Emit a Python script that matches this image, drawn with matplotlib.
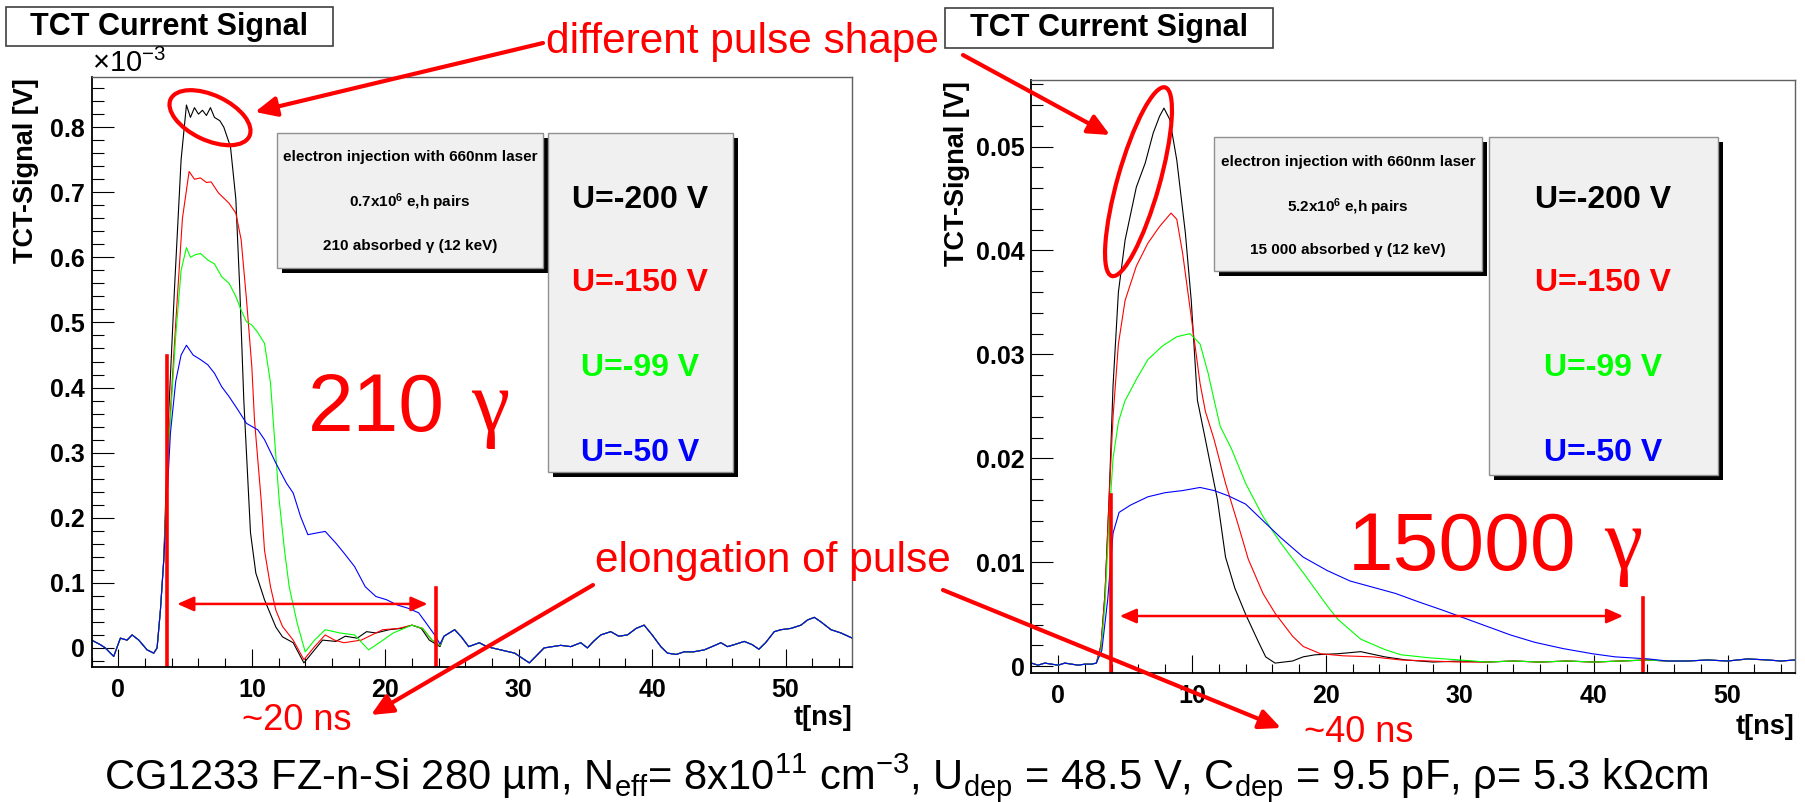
import numpy as np
import matplotlib.pyplot as plt
from matplotlib.patches import Ellipse, FancyArrowPatch, Rectangle

plt.rcParams['font.family'] = ['Liberation Sans', 'DejaVu Sans']
plt.rcParams['mathtext.fontset'] = 'custom'
plt.rcParams['mathtext.rm'] = 'Liberation Sans'
plt.rcParams['mathtext.it'] = 'Liberation Sans:italic'
plt.rcParams['mathtext.bf'] = 'Liberation Sans:bold'

# ---------------- data ----------------
# left panel, 210 photons, signal in units of 1e-3 V
t_head_l = [-2.0, -1.35, -0.98, -0.35, 0.15, 0.65, 1.03, 1.53, 2.15, 2.65, 2.9, 3.15, 3.4]
v_head_l = [0.012, 0.005, 0.0, -0.013, 0.015, 0.012, 0.02, 0.012, -0.003, -0.008, 0.0, 0.058, 0.135]

t_black_l = [3.7, 4.2, 4.7, 5.1, 5.4, 5.7, 6.0, 6.3, 6.6, 6.9, 7.2, 7.6, 7.9, 8.4, 8.8, 9.1, 9.4,
             9.9, 10.3, 10.95, 11.8, 12.3, 13.1, 13.9, 14.5, 15.3, 16.3, 17.0, 17.9, 18.6, 19.3,
             20.3, 21.2, 22.0, 22.7, 23.3, 24.1]
v_black_l = [0.33, 0.55, 0.75, 0.834, 0.815, 0.83, 0.82, 0.826, 0.818, 0.83, 0.815, 0.81, 0.80,
             0.77, 0.69, 0.55, 0.38, 0.177, 0.115, 0.074, 0.032, 0.017, 0.008, -0.023, -0.008,
             0.012, 0.010, 0.018, 0.015, 0.025, 0.023, 0.028, 0.03, 0.035, 0.03, 0.012, 0.002]

t_red_l = [3.8, 4.3, 4.8, 5.3, 5.7, 6.15, 6.6, 6.95, 7.5, 8.3, 8.8, 9.2, 9.6, 10.0, 10.2, 10.7,
           10.95, 11.4, 11.8, 12.3, 13.1, 13.9, 14.7, 15.5, 16.2, 16.9, 18.2, 19.0, 19.8, 21.0,
           22.0, 22.8, 23.5, 24.1]
v_red_l = [0.33, 0.5, 0.66, 0.732, 0.72, 0.722, 0.715, 0.716, 0.699, 0.683, 0.668, 0.627, 0.535,
           0.432, 0.35, 0.227, 0.15, 0.094, 0.058, 0.033, 0.012, -0.018, 0.002, 0.02, 0.012,
           0.008, 0.012, 0.02, 0.028, 0.03, 0.035, 0.03, 0.012, 0.004]

t_green_l = [3.8, 4.3, 4.7, 5.1, 5.4, 5.75, 6.15, 6.7, 7.2, 7.75, 8.3, 8.8, 9.2, 9.6, 10.0, 10.4,
             10.95, 11.4, 11.6, 12.05, 12.45, 12.8, 13.4, 14.0, 14.7, 15.5, 16.6, 17.7, 18.75,
             19.55, 20.6, 22.0, 22.8, 23.5, 24.1]
v_green_l = [0.32, 0.48, 0.58, 0.615, 0.60, 0.604, 0.606, 0.596, 0.59, 0.570, 0.56, 0.54, 0.519,
             0.501, 0.496, 0.486, 0.468, 0.407, 0.35, 0.227, 0.15, 0.094, 0.038, -0.006, 0.012,
             0.028, 0.023, 0.02, -0.003, 0.008, 0.023, 0.035, 0.03, 0.012, 0.004]

t_blue_l = [3.9, 4.3, 4.7, 5.1, 5.6, 6.15, 6.7, 7.2, 7.75, 8.3, 8.95, 9.6, 10.45, 10.95, 11.8,
            12.6, 13.1, 13.65, 14.2, 14.7, 15.5, 16.3, 16.9, 17.7, 18.5, 19.3, 20.1, 20.9, 21.7,
            22.5, 23.0, 23.7, 24.1]
v_blue_l = [0.33, 0.41, 0.45, 0.465, 0.45, 0.443, 0.435, 0.422, 0.401, 0.386, 0.366, 0.345,
            0.335, 0.32, 0.284, 0.253, 0.238, 0.202, 0.174, 0.176, 0.179, 0.161, 0.146, 0.125,
            0.094, 0.079, 0.074, 0.066, 0.061, 0.054, 0.040, 0.02, 0.006]

t_tail_l = [24.4, 25.2, 25.7, 26.25, 27.05, 27.6, 28.65, 29.7, 30.8, 31.9, 33.15, 33.9, 34.65,
            35.15, 35.6, 36.15, 36.9, 37.5, 38.15, 38.8, 39.4, 40.0, 40.65, 41.15, 41.8, 42.4,
            43.1, 43.9, 44.6, 45.15, 45.65, 46.15, 46.9, 47.5, 48.0, 48.5, 49.15, 49.65, 50.4,
            51.15, 51.65, 52.15, 52.65, 53.4, 54.15, 55.0]
v_tail_l = [0.018, 0.028, 0.017, 0.002, 0.008, 0.002, -0.003, -0.008, -0.023, 0.0, 0.004, 0.002,
            0.008, 0.0, 0.01, 0.02, 0.025, 0.018, 0.02, 0.03, 0.035, 0.02, 0.002, -0.008, -0.01,
            -0.006, -0.006, -0.003, 0.003, 0.008, 0.002, 0.005, 0.01, 0.005, -0.002, 0.008, 0.025,
            0.028, 0.03, 0.035, 0.043, 0.047, 0.04, 0.028, 0.023, 0.015]

# right panel, 15000 photons, signal in V
t_head_r = [-2.0, -1.5, -1.0, -0.5, 0.0, 0.5, 1.0, 1.5, 2.0, 2.5]
v_head_r = [0.0003, 0.0001, 0.0003, 0.0002, 0.0001, 0.0003, 0.0002, 0.0001, 0.0002, 0.0002]

t_black_r = [2.85, 3.2, 3.5, 3.8, 4.1, 4.5, 5.0, 5.84, 6.5, 7.1, 7.57, 7.9, 8.34, 8.86, 9.5, 9.94,
             10.4, 11.0, 11.9, 12.5, 13.2, 14.0, 14.9, 15.5, 16.2, 17.5, 18.3, 19.2, 20.9, 22.6,
             24.4, 26.0, 28.0, 30.0]
v_black_r = [0.0003, 0.002, 0.007, 0.016, 0.027, 0.036, 0.041, 0.0461, 0.0484, 0.0513, 0.0529,
             0.0537, 0.0526, 0.0487, 0.0417, 0.0352, 0.0256, 0.0218, 0.016, 0.0105, 0.0075,
             0.005, 0.0025, 0.0009, 0.0003, 0.0005, 0.0009, 0.0011, 0.0012, 0.0014, 0.0009,
             0.0006, 0.0004, 0.0005]

t_red_r = [2.85, 3.2, 3.5, 3.8, 4.1, 4.5, 5.0, 5.84, 6.7, 7.57, 8.43, 8.86, 9.3, 9.94, 10.6, 11.0,
           11.65, 12.5, 13.4, 14.2, 15.3, 16.2, 17.5, 18.3, 19.6, 21.3, 23.5, 25.6, 27.8, 30.0]
v_red_r = [0.0003, 0.002, 0.007, 0.016, 0.024, 0.031, 0.0352, 0.0385, 0.0407, 0.0423, 0.0436,
           0.043, 0.0397, 0.0336, 0.0272, 0.0245, 0.0218, 0.0176, 0.0138, 0.0103, 0.007, 0.0051,
           0.0029, 0.0019, 0.0012, 0.001, 0.0009, 0.0006, 0.0005, 0.0004]

t_green_r = [2.85, 3.2, 3.5, 3.8, 4.1, 4.5, 4.98, 5.84, 6.7, 7.78, 8.86, 9.85, 10.6, 11.2, 11.65,
             12.1, 12.95, 14.0, 15.3, 16.6, 18.3, 20.1, 20.9, 22.6, 24.4, 25.6, 27.8, 30.0]
v_green_r = [0.0003, 0.0015, 0.006, 0.014, 0.02, 0.0235, 0.0255, 0.0276, 0.0295, 0.0308, 0.0317,
             0.032, 0.031, 0.0282, 0.0256, 0.0231, 0.0209, 0.0176, 0.0144, 0.0119, 0.009, 0.0058,
             0.0045, 0.0026, 0.0016, 0.0011, 0.0008, 0.0006]

t_blue_r = [2.85, 3.26, 3.7, 4.1, 4.55, 5.4, 6.7, 8.0, 9.3, 10.6, 11.65, 12.7, 14.0, 15.3, 16.6,
            18.3, 20.1, 21.8, 23.5, 25.2, 26.9, 28.7, 30.4, 32.1, 33.8, 35.6, 37.7, 39.9, 41.6,
            44.1]
v_blue_r = [0.0003, 0.0015, 0.0064, 0.0128, 0.0148, 0.0155, 0.0163, 0.0167, 0.0169, 0.0172,
            0.0169, 0.0164, 0.0156, 0.014, 0.0124, 0.0105, 0.0092, 0.0082, 0.0076, 0.007, 0.0062,
            0.0054, 0.0046, 0.0038, 0.003, 0.0023, 0.0017, 0.0012, 0.0009, 0.0007]

t_tail_r = [32.0, 34.0, 36.0, 38.0, 40.0, 42.0, 44.0, 45.5, 47.0, 48.5, 50.0, 51.5, 53.0, 54.0, 55.0]
v_tail_r = [0.0004, 0.0005, 0.0004, 0.0005, 0.0004, 0.0005, 0.0006, 0.0005, 0.0005, 0.0006,
            0.0005, 0.0007, 0.0006, 0.0005, 0.0006]

voltages = ['U=-200 V', 'U=-150 V', 'U=-99 V', 'U=-50 V']
colors = ['#000000', '#ff0000', '#00ff00', '#0000ff']

yticks_l = [0, 0.1, 0.2, 0.3, 0.4, 0.5, 0.6, 0.7, 0.8]
yticklabels_l = ['0', '0.1', '0.2', '0.3', '0.4', '0.5', '0.6', '0.7', '0.8']
yticks_r = [0, 0.01, 0.02, 0.03, 0.04, 0.05]
yticklabels_r = ['0', '0.01', '0.02', '0.03', '0.04', '0.05']
xticks = [0, 10, 20, 30, 40, 50]

# build the four curves of each panel
curves_l = []
for t, v in [(t_black_l, v_black_l), (t_red_l, v_red_l), (t_green_l, v_green_l), (t_blue_l, v_blue_l)]:
    curves_l.append((np.concatenate([t_head_l, t, t_tail_l]), np.concatenate([v_head_l, v, v_tail_l])))

curves_r = []
for t, v in [(t_black_r, v_black_r), (t_red_r, v_red_r), (t_green_r, v_green_r), (t_blue_r, v_blue_r)]:
    keep = np.array(t_tail_r) > t[-1]
    curves_r.append((np.concatenate([t_head_r, t, np.array(t_tail_r)[keep]]),
                     np.concatenate([v_head_r, v, np.array(v_tail_r)[keep]])))

# ---------------- figure ----------------
W, H = 1805, 802
fig = plt.figure(figsize=(W / 100, H / 100), dpi=100)


def fx(x):
    return x / W


def fy(y):
    return 1 - y / H


def style(ax, ylim, yt, ytl, yminor):
    ax.set_xlim(-2, 55)
    ax.set_ylim(*ylim)
    ax.set_xticks(xticks)
    ax.set_xticklabels([str(x) for x in xticks], fontweight='bold')
    ax.set_xticks(np.arange(-2, 55.1, 2), minor=True)
    ax.set_yticks(yt)
    ax.set_yticklabels(ytl, fontweight='bold')
    ax.set_yticks(yminor, minor=True)
    ax.tick_params(which='both', direction='in', top=False, right=False, width=0.8, colors='black')
    ax.tick_params(axis='y', which='major', length=16, pad=5, labelsize=18)
    ax.tick_params(axis='y', which='minor', length=8.5)
    ax.tick_params(axis='x', which='major', length=13, pad=8, labelsize=18)
    ax.tick_params(axis='x', which='minor', length=6.5)
    for s in ['left', 'bottom']:
        ax.spines[s].set_linewidth(1.3)
    for s in ['top', 'right']:
        ax.spines[s].set_color('#606060')
        ax.spines[s].set_linewidth(1.0)


axl = fig.add_axes([0.0508, 0.1680, 0.4214, 0.7356])
axr = fig.add_axes([0.5714, 0.1605, 0.4228, 0.7397])

for (t, v), c in zip(curves_l, colors):
    axl.plot(t, v, color=c, lw=0.8)
for (t, v), c in zip(curves_r, colors):
    axr.plot(t, v, color=c, lw=0.8)

style(axl, (-0.0297, 0.8766), yticks_l, yticklabels_l, np.arange(-0.02, 0.87, 0.02))
style(axr, (-0.00068, 0.0564), yticks_r, yticklabels_r, np.arange(0, 0.0565, 0.002))

# red markers of the pulse length
arrow2 = dict(arrowstyle='<|-|>,head_length=0.5,head_width=0.22', color='red', lw=1.8,
              mutation_scale=20, shrinkA=0, shrinkB=0)
axl.plot([3.66, 3.66], [0.449, -0.05], color='red', lw=2.6)
axl.plot([23.8, 23.8], [0.092, -0.05], color='red', lw=2.6)
axl.annotate('', xy=(23.17, 0.0676), xytext=(4.41, 0.0676), arrowprops=arrow2)
axr.plot([3.93, 3.93], [0.0165, -0.002], color='red', lw=2.6)
axr.plot([43.7, 43.7], [0.0066, -0.002], color='red', lw=2.6)
axr.annotate('', xy=(42.2, 0.00483), xytext=(4.6, 0.00483), arrowprops=arrow2)

# axis titles
for x, y in [(26, 171), (957, 174)]:
    fig.text(fx(x), fy(y), 'TCT-Signal [V]', rotation=90, ha='center', va='center',
             fontsize=19.5, fontweight='bold')
fig.text(fx(852), fy(718), 't[ns]', ha='right', va='center', fontsize=19.5, fontweight='bold')
fig.text(fx(1794), fy(727), 't[ns]', ha='right', va='center', fontsize=19.5, fontweight='bold')
fig.text(fx(92), fy(72), '×10$^{-3}$', ha='left', va='baseline', fontsize=21)

# title boxes
for x0, y0, x1, y1 in [(6, 7, 333, 46), (945, 8, 1273, 48)]:
    fig.add_artist(Rectangle((fx(x0), fy(y1)), fx(x1) - fx(x0), fy(y0) - fy(y1),
                             transform=fig.transFigure, fc='white', ec='#404040', lw=1.2))
    fig.text(fx((x0 + x1) / 2), fy((y0 + y1) / 2), 'TCT Current Signal', ha='center',
             va='center', fontsize=22, fontweight='bold')


def pave(x0, y0, x1, y1):
    fig.add_artist(Rectangle((fx(x0 + 5), fy(y1 + 5)), fx(x1) - fx(x0), fy(y0) - fy(y1),
                             transform=fig.transFigure, fc='black', ec='none'))
    fig.add_artist(Rectangle((fx(x0), fy(y1)), fx(x1) - fx(x0), fy(y0) - fy(y1),
                             transform=fig.transFigure, fc='#f0f0f0', ec='#909090', lw=1))


info_l = ['electron injection with 660nm laser', r'0.7x10$^{\mathbf{6}}$ e,h pairs',
          '210 absorbed γ (12 keV)']
info_r = ['electron injection with 660nm laser', r'5.2x10$^{\mathbf{6}}$ e,h pairs',
          '15 000 absorbed γ (12 keV)']

pave(277, 133, 543, 268)
for txt, y in zip(info_l, [157, 202, 246]):
    fig.text(fx(410), fy(y), txt, ha='center', va='center', fontsize=11, fontweight='bold')
pave(1214, 137, 1482, 271)
for txt, y in zip(info_r, [162, 207, 250]):
    fig.text(fx(1348), fy(y), txt, ha='center', va='center', fontsize=11, fontweight='bold')

pave(548, 133, 733, 472)
pave(1489, 137, 1718, 475)
for lab, c, y in zip(voltages, colors, [200, 283, 368, 453]):
    fig.text(fx(640), fy(y), lab, color=c, ha='center', va='center', fontsize=23, fontweight='bold')
    fig.text(fx(1603), fy(y), lab, color=c, ha='center', va='center', fontsize=23, fontweight='bold')

# red annotations
fig.text(fx(308), fy(431), '210', color='red', fontsize=59, ha='left', va='baseline')
fig.text(fx(471), fy(430), 'γ', color='red', fontsize=62, ha='left', va='baseline',
         family='Liberation Serif')
fig.text(fx(1348), fy(570), '15000', color='red', fontsize=59, ha='left', va='baseline')
fig.text(fx(1604), fy(568), 'γ', color='red', fontsize=62, ha='left', va='baseline',
         family='Liberation Serif')

fig.text(fx(546), fy(53), 'different pulse shape', color='red', fontsize=30.5, ha='left',
         va='baseline')
fig.text(fx(595), fy(572), 'elongation of pulse', color='red', fontsize=30.5, ha='left',
         va='baseline')
fig.text(fx(297), fy(721), '~20 ns', color='red', fontsize=26, ha='center', va='center')
fig.text(fx(1359), fy(733), '~40 ns', color='red', fontsize=26, ha='center', va='center')

for (x0, y0), (x1, y1) in [((543, 43), (255, 112)), ((963, 55), (1110, 135)),
                           ((593, 585), (371, 715)), ((943, 590), (1281, 728))]:
    fig.add_artist(FancyArrowPatch((fx(x0), fy(y0)), (fx(x1), fy(y1)), transform=fig.transFigure,
                                   arrowstyle='-|>,head_length=0.65,head_width=0.3',
                                   mutation_scale=20, color='red', lw=3, shrinkA=0, shrinkB=0))

fig.add_artist(Ellipse((2.10, (H - 117.7) / 100), 0.87, 0.45, angle=-25.2,
                       transform=fig.dpi_scale_trans, fill=False, ec='red', lw=3))
fig.add_artist(Ellipse((11.385, (H - 181.7) / 100), 1.96, 0.42, angle=74.2,
                       transform=fig.dpi_scale_trans, fill=False, ec='red', lw=3))

# sample description
fig.text(fx(906), fy(789),
         r'CG1233 FZ-n-Si 280 µm, N$_{\mathrm{eff}}$= 8x10$^{11}$ cm$^{-3}$, '
         r'U$_{\mathrm{dep}}$ = 48.5 V, C$_{\mathrm{dep}}$ = 9.5 pF, ρ= 5.3 kΩcm',
         ha='center', va='baseline', fontsize=30)

fig.savefig('out.png', dpi=100)
